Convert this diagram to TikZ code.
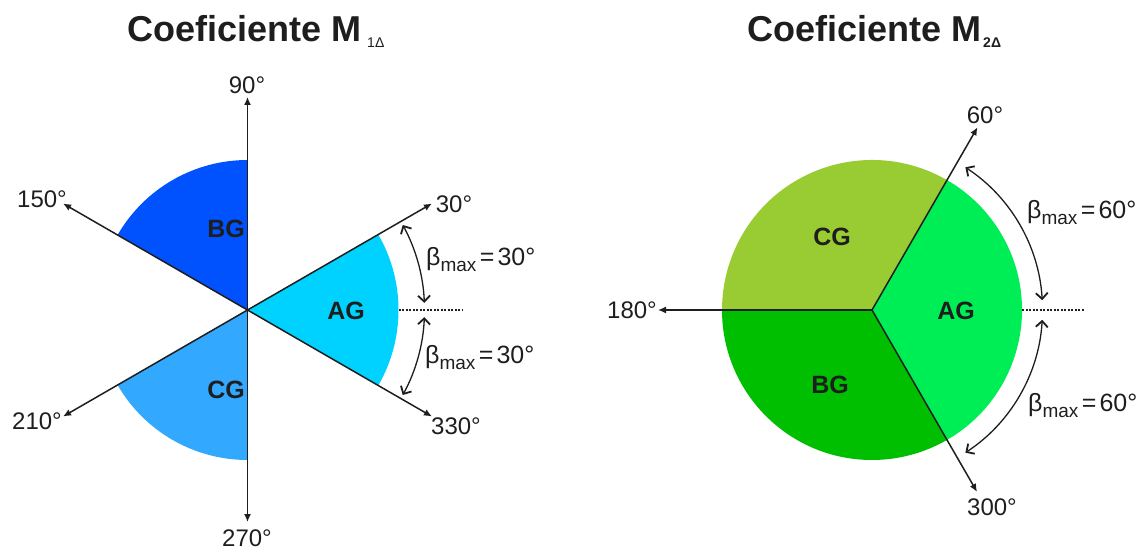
\documentclass[tikz,border=0pt]{standalone}
\usepackage{fontspec}
\setmainfont{Liberation Sans}
\usetikzlibrary{arrows.meta}
\definecolor{lBG}{RGB}{0,82,255}
\definecolor{lAG}{RGB}{0,210,255}
\definecolor{lCG}{RGB}{51,168,255}
\definecolor{rCG}{RGB}{153,204,51}
\definecolor{rBG}{RGB}{0,190,0}
\definecolor{rAG}{RGB}{0,238,85}
\definecolor{ink}{RGB}{30,30,30}
\newcommand{\betalab}[1]{β\raisebox{-6pt}{\fontsize{19}{19}\selectfont max}\hspace{3.5pt}=\hspace{3pt}#1}
\begin{document}
\begin{tikzpicture}[x=1pt,y=1pt,
  axisline/.style={line width=1.5pt, draw=ink, -{Latex[length=8pt,width=7pt]}},
  barb/.style={line width=1.3pt, draw=ink, {Straight Barb[length=6pt,width=12pt,line width=1.8pt]}-{Straight Barb[length=6pt,width=12pt,line width=1.8pt]}},
  deg/.style={font=\fontsize{24}{24}\selectfont, text=ink, inner sep=0pt},
  sect/.style={font=\bfseries\fontsize{25}{25}\selectfont, text=ink, inner sep=0pt},
  betastyle/.style={font=\fontsize{25}{25}\selectfont, text=ink, inner sep=0pt, anchor=west},
  titlestyle/.style={font=\bfseries\fontsize{36}{36}\selectfont, text=ink, inner sep=0pt, anchor=base west},
  dotline/.style={line width=1.4pt, draw=ink, dash pattern=on 2pt off 1.5pt}
]
\useasboundingbox (0,0) rectangle (1139,550);

% ---------- left diagram ----------
\coordinate (L) at (247.5,240);
\fill[lBG] (L) -- ++(90:150) arc[start angle=90,end angle=150,radius=150] -- cycle;
\fill[lAG] (L) -- ++(-30:151) arc[start angle=-30,end angle=30,radius=151] -- cycle;
\fill[lCG] (L) -- ++(210:150) arc[start angle=210,end angle=270,radius=150] -- cycle;

\path (L) ++(90:213) coordinate (L90);
\path (L) ++(270:212) coordinate (L270);
\path (L) ++(30:213) coordinate (L30);
\path (L) ++(150:213) coordinate (L150);
\path (L) ++(210:213) coordinate (L210);
\path (L) ++(330:213) coordinate (L330);
\draw[axisline] (L) -- (L90);
\draw[axisline] (L) -- (L270);
\draw[axisline] (L) -- (L30);
\draw[axisline] (L) -- (L150);
\draw[axisline] (L) -- (L210);
\draw[axisline] (L) -- (L330);

\node[deg] (t90) at (247,465) {90°};
\node[deg] (t270) at (247,12) {270°};
\node[deg] (t30) at (454,346) {30°};
\node[deg] (t330) at (456,124) {330°};
\node[deg] (t150) at (42,351) {150°};
\node[deg] (t210) at (37,129) {210°};

\node[sect] (lbg) at (226,321) {BG};
\node[sect] (lag) at (346,239) {AG};
\node[sect] (lcg) at (226,160) {CG};

\path (L) ++(0:151) coordinate (Ld1);
\path (L) ++(0:215) coordinate (Ld2);
\draw[dotline] (Ld1) -- (Ld2);
\path (L) ++(28.7:177) coordinate (La1);
\path (L) ++(-28.7:177) coordinate (La2);
\draw[barb] (La1) arc[start angle=28.7,end angle=2.3,radius=177];
\draw[barb] (La2) arc[start angle=-28.7,end angle=-2.3,radius=177];
\node[betastyle] (lb1) at (426,290) {\betalab{30°}};
\node[betastyle] (lb2) at (425,192) {\betalab{30°}};

\node[titlestyle] (title1) at (127,508) {Coeficiente M\hspace{6pt}\raisebox{-6pt}{\mdseries\fontsize{14}{14}\selectfont 1Δ}};

% ---------- right diagram ----------
\coordinate (R) at (872,240);
\fill[rCG] (R) -- ++(60:150) arc[start angle=60,end angle=180,radius=150] -- cycle;
\fill[rBG] (R) -- ++(180:150) arc[start angle=180,end angle=300,radius=150] -- cycle;
\fill[rAG] (R) -- ++(300:150) arc[start angle=300,end angle=420,radius=150] -- cycle;

\path (R) ++(60:211) coordinate (R60);
\path (R) ++(180:214) coordinate (R180);
\path (R) ++(300:210) coordinate (R300);
\draw[axisline] (R) -- (R60);
\draw[axisline] (R) -- (R180);
\draw[axisline] (R) -- (R300);

\node[deg] (t60) at (985,435) {60°};
\node[deg] (t180) at (632,240) {180°};
\node[deg] (t300) at (992,43) {300°};

\node[sect] (rcg) at (832,313) {CG};
\node[sect] (rag) at (956,239) {AG};
\node[sect] (rbg) at (830,165) {BG};

\path (R) ++(0:150) coordinate (Rd1);
\path (R) ++(0:213) coordinate (Rd2);
\draw[dotline] (Rd1) -- (Rd2);
\path (R) ++(56.8:170.5) coordinate (Ra1);
\path (R) ++(-56.8:170.5) coordinate (Ra2);
\draw[barb] (Ra1) arc[start angle=56.8,end angle=3.3,radius=170.5];
\draw[barb] (Ra2) arc[start angle=-56.8,end angle=-3.3,radius=170.5];
\node[betastyle] (rb1) at (1027,337) {\betalab{60°}};
\node[betastyle] (rb2) at (1028,144) {\betalab{60°}};

\node[titlestyle] (title2) at (747,508) {Coeficiente M\hspace{2pt}\raisebox{-6pt}{\fontsize{14}{14}\selectfont 2Δ}};
\end{tikzpicture}
\end{document}
